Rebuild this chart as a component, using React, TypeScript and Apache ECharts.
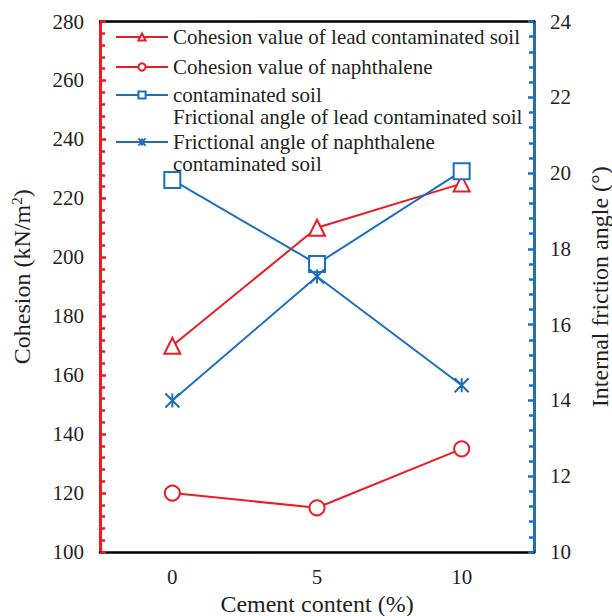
import React, { useEffect, useRef } from "react";
import * as echarts from "echarts";

const categories = ["0", "5", "10"];
const cohesionLead = [170, 210, 225];
const cohesionNaph = [120, 115, 135];
const frictionLead = [19.82, 17.6, 20.05];
const frictionNaph = [14.0, 17.27, 14.4];

const seriesNames = [
  "Cohesion value of lead contaminated soil",
  "Cohesion value of naphthalene contaminated soil",
  "Frictional angle of lead contaminated soil",
  "Frictional angle of naphthalene contaminated soil",
];
const legendTexts = [
  "Cohesion value of lead contaminated soil",
  "Cohesion value of naphthalene",
  "\u00a0\ncontaminated soil\nFrictional angle of lead contaminated soil",
  "\u00a0\nFrictional angle of naphthalene\ncontaminated soil",
];

const RED = "#ED1C24";
const BLUE = "#1B70BE";
const TEXT = "#231F20";
const FONT = "Liberation Serif";
const STAR = "path://M0,0L10,10M10,0L0,10M5,0L5,10";

export default function App() {
  const ref = useRef<HTMLDivElement>(null);
  useEffect(() => {
    document.body.style.margin = "0";
    const chart = echarts.init(ref.current!, null, { renderer: "svg" });
    const legendTops = [26, 56, 62, 109];
    const legends = seriesNames.map((n, i) => ({
      data: [n],
      left: 115,
      top: legendTops[i],
      orient: "vertical",
      itemWidth: 52,
      itemHeight: 9,
      itemGap: 0,
      padding: 0,
      selectedMode: false,
      formatter: () => legendTexts[i],
      textStyle: { fontFamily: FONT, fontSize: 21, color: TEXT, lineHeight: 22 },
    }));
    const yTick = (color: string) => ({
      axisLine: { show: true, lineStyle: { color, width: 3 } },
      axisTick: { show: true, inside: true, length: 6, lineStyle: { color, width: 2.5 } },
      minorTick: { show: true, splitNumber: 5, length: 5, lineStyle: { color, width: 2.5 } },
      splitLine: { show: false },
      axisLabel: { color: TEXT, fontFamily: FONT, fontSize: 21, margin: 16 },
      nameLocation: "middle",
      nameRotate: 90,
    });
    chart.setOption({
      animation: false,
      backgroundColor: "#fff",
      grid: { left: 100, right: 78, top: 21.5, bottom: 64, containLabel: false, outerBoundsMode: "none" },
      legend: legends,
      xAxis: [
        {
          type: "category",
          data: categories,
          boundaryGap: true,
          name: "Cement content (%)",
          nameLocation: "middle",
          nameGap: 36,
          nameTextStyle: { color: TEXT, fontFamily: FONT, fontSize: 24 },
          axisLine: { lineStyle: { color: "#000", width: 2.5 } },
          axisTick: { alignWithLabel: true, length: 5, lineStyle: { color: "#000", width: 2 } },
          axisLabel: { color: TEXT, fontFamily: FONT, fontSize: 21, margin: 14 },
        },
        {
          type: "category",
          data: categories,
          position: "top",
          axisLine: { lineStyle: { color: "#000", width: 2.5 } },
          axisTick: { show: false },
          axisLabel: { show: false },
        },
      ],
      yAxis: [
        {
          type: "value",
          min: 100,
          max: 280,
          interval: 20,
          name: "Cohesion (kN/m{sup|2})",
          nameGap: 66,
          ...yTick(RED),
          nameTextStyle: {
            color: TEXT,
            fontFamily: FONT,
            fontSize: 24,
            padding: [0, 0, 0, 20],
            rich: {
              sup: { fontFamily: FONT, fontSize: 15, color: TEXT, padding: [0, 0, 10, 0] },
            },
          },
        },
        {
          type: "value",
          min: 10,
          max: 24,
          interval: 2,
          position: "right",
          name: "Internal friction angle (°)",
          nameGap: 54,
          ...yTick(BLUE),
          nameTextStyle: { color: TEXT, fontFamily: FONT, fontSize: 24 },
        },
      ],
      series: [
        {
          name: seriesNames[0],
          type: "line",
          data: cohesionLead,
          yAxisIndex: 0,
          symbol: "emptyTriangle",
          symbolSize: 16,
          lineStyle: { color: RED, width: 2 },
          itemStyle: { color: RED, borderWidth: 2 },
        },
        {
          name: seriesNames[1],
          type: "line",
          data: cohesionNaph,
          yAxisIndex: 0,
          symbol: "emptyCircle",
          symbolSize: 15,
          lineStyle: { color: RED, width: 2 },
          itemStyle: { color: RED, borderWidth: 2 },
        },
        {
          name: seriesNames[2],
          type: "line",
          data: frictionLead,
          yAxisIndex: 1,
          symbol: "emptyRect",
          symbolSize: 16,
          lineStyle: { color: BLUE, width: 2 },
          itemStyle: { color: BLUE, borderWidth: 2 },
        },
        {
          name: seriesNames[3],
          type: "line",
          data: frictionNaph,
          yAxisIndex: 1,
          symbol: STAR,
          symbolSize: 14,
          lineStyle: { color: BLUE, width: 2 },
          itemStyle: { color: BLUE, borderColor: BLUE, borderWidth: 2 },
        },
      ],
    });
    return () => chart.dispose();
  }, []);
  return <div ref={ref} style={{ width: 612, height: 616 }} />;
}
